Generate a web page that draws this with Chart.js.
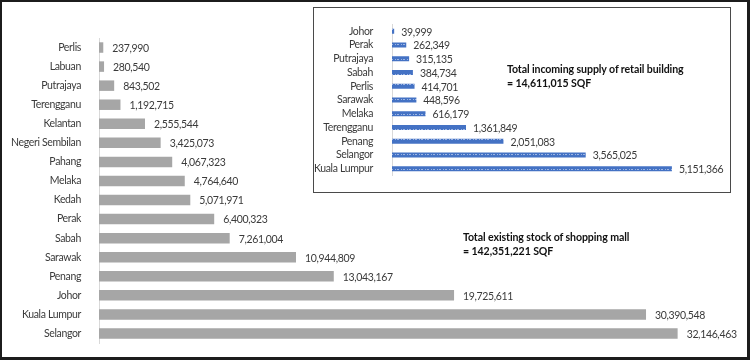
<!DOCTYPE html>
<html>
<head>
<meta charset="utf-8">
<script src="https://cdn.jsdelivr.net/npm/chart.js@4.4.1/dist/chart.umd.min.js"></script>
<style>
  body { margin: 0; background: #fff; }
  #wrap { position: relative; width: 750px; height: 360px; overflow: hidden; font-family: Lato, sans-serif; }
  #main { position: absolute; left: 0; top: 0; }
  #insetBox { position: absolute; left: 313px; top: 7px; width: 418px; height: 186px; background: #fff; }
  #inset { position: absolute; left: 0; top: 0; }
  #insetFrame { position: absolute; left: 313px; top: 7px; width: 418px; height: 186px; box-sizing: border-box; border: 1.5px solid #4a4a4a; pointer-events: none; }
  #frame { position: absolute; left: 0; top: 0; width: 750px; height: 360px; box-sizing: border-box; border-style: solid; border-color: #1c1c1c; border-width: 2px 3px 3px 2px; pointer-events: none; }
  .note { position: absolute; font-size: 10.6px; line-height: 14px; font-weight: bold; color: #111; white-space: nowrap; letter-spacing: -0.1px; }
</style>
</head>
<body>
<div id="wrap">
  <canvas id="main" width="750" height="360"></canvas>
  <div id="insetBox"><canvas id="inset" width="418" height="186"></canvas></div>
  <div id="insetFrame"></div>
  <div class="note" style="left:463px; top:230px;">Total existing stock of shopping mall<br>= 142,351,221 SQF</div>
  <div class="note" style="left:507px; top:62px;">Total incoming supply of retail building<br>= 14,611,015 SQF</div>
  <div id="frame"></div>
</div>
<script>
// existing stock of shopping malls (sq ft)
const stockStates = ['Perlis', 'Labuan', 'Putrajaya', 'Terengganu', 'Kelantan', 'Negeri Sembilan', 'Pahang', 'Melaka', 'Kedah', 'Perak', 'Sabah', 'Sarawak', 'Penang', 'Johor', 'Kuala Lumpur', 'Selangor'];
const stockValues = [237990, 280540, 843502, 1192715, 2555544, 3425073, 4067323, 4764640, 5071971, 6400323, 7261004, 10944809, 13043167, 19725611, 30390548, 32146463];

// incoming supply of retail building (sq ft)
const supplyStates = ['Johor', 'Perak', 'Putrajaya', 'Sabah', 'Perlis', 'Sarawak', 'Melaka', 'Terengganu', 'Penang', 'Selangor', 'Kuala Lumpur'];
const supplyValues = [39999, 262349, 315135, 384734, 414701, 448596, 616179, 1361849, 2051083, 3565025, 5151366];

const FONT = 'Lato, sans-serif';
Chart.defaults.font.family = FONT;
Chart.defaults.font.size = 10.5;
Chart.defaults.color = '#3a3a3a';

// tighten letters a bit so Lato comes close to the narrower original font
const tighten = {
  id: 'tighten',
  beforeDraw(chart) { chart.ctx.letterSpacing = '-0.35px'; }
};

// write the value at the end of each bar
const valueLabels = {
  id: 'valueLabels',
  afterDatasetsDraw(chart, args, opts) {
    const ctx = chart.ctx;
    const meta = chart.getDatasetMeta(0);
    const vals = chart.data.datasets[0].data;
    ctx.save();
    ctx.font = '10.5px ' + FONT;
    ctx.fillStyle = '#3a3a3a';
    ctx.textBaseline = 'middle';
    meta.data.forEach((bar, i) => {
      ctx.fillText(vals[i].toLocaleString('en-US'), bar.x + opts.gap, bar.y + 1);
    });
    ctx.restore();
  }
};

new Chart(document.getElementById('main'), {
  type: 'bar',
  data: {
    labels: stockStates,
    datasets: [{
      data: stockValues,
      backgroundColor: '#a6a6a6',
      barPercentage: 0.55,
      categoryPercentage: 1
    }]
  },
  options: {
    indexAxis: 'y',
    responsive: false,
    animation: false,
    layout: { padding: { top: 38, bottom: 17, left: 0, right: 21 } },
    plugins: { legend: { display: false }, tooltip: { enabled: false }, valueLabels: { gap: 9 } },
    scales: {
      x: { display: false, min: 0, max: 35000000 },
      y: {
        grid: { display: false },
        border: { color: '#d9d9d9' },
        ticks: { padding: 10, color: '#3a3a3a', autoSkip: false },
        afterFit(s) { s.width = 99; }
      }
    }
  },
  plugins: [tighten, valueLabels]
});

// blue bars with a light dashed texture
function stripes() {
  const c = document.createElement('canvas');
  c.width = 6; c.height = 5;
  const g = c.getContext('2d');
  g.fillStyle = '#4472c4';
  g.fillRect(0, 0, 6, 5);
  g.fillStyle = '#9db5e3';
  g.fillRect(0, 2, 2, 1);
  g.fillRect(4, 2, 1, 1);
  return g.createPattern(c, 'repeat');
}

new Chart(document.getElementById('inset'), {
  type: 'bar',
  data: {
    labels: supplyStates,
    datasets: [{
      data: supplyValues,
      backgroundColor: stripes(),
      barPercentage: 0.36,
      categoryPercentage: 1
    }]
  },
  options: {
    indexAxis: 'y',
    responsive: false,
    animation: false,
    layout: { padding: { top: 12.6, bottom: 11.6, left: 0, right: 13 } },
    plugins: { legend: { display: false }, tooltip: { enabled: false }, valueLabels: { gap: 7 } },
    scales: {
      x: { display: false, min: 0, max: 6000000 },
      y: {
        grid: { display: false },
        border: { color: '#d9d9d9' },
        ticks: { padding: 11, color: '#3a3a3a', autoSkip: false },
        afterFit(s) { s.width = 79; }
      }
    }
  },
  plugins: [tighten, valueLabels]
});
</script>
</body>
</html>
